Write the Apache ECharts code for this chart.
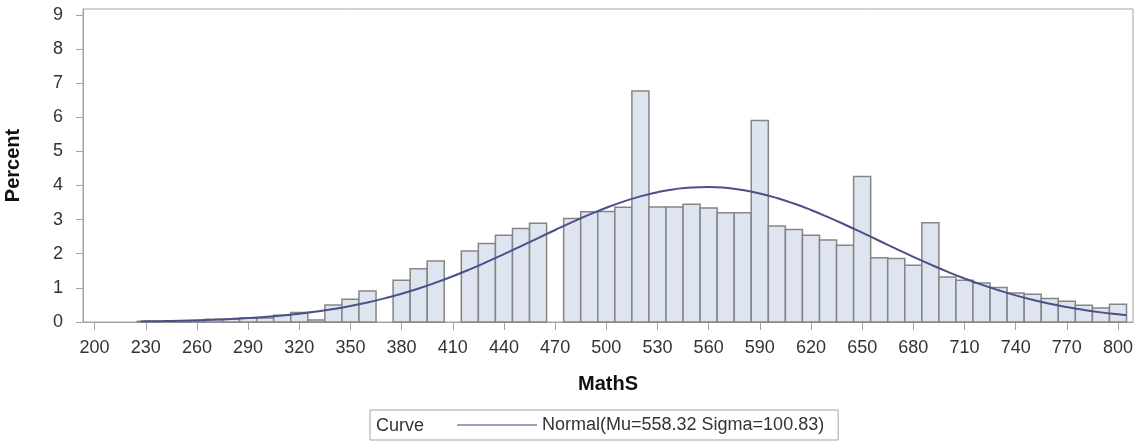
<!DOCTYPE html>
<html>
<head>
<meta charset="utf-8">
<script src="https://cdn.jsdelivr.net/npm/echarts@6/dist/echarts.min.js"></script>
<style>
html,body{margin:0;padding:0;background:#fff;}
#chart{width:1141px;height:443px;}
</style>
</head>
<body>
<div id="chart"></div>
<script>
// Histogram bins (midpoints, width 10) and percents
const binMid = [230,240,250,260,270,280,290,300,310,320,330,340,350,360,370,380,390,400,410,420,430,440,450,460,470,480,490,500,510,520,530,540,550,560,570,580,590,600,610,620,630,640,650,660,670,680,690,700,710,720,730,740,750,760,770,780,790,800];
const binPct = [0.02,0.02,0.02,0.03,0.08,0.08,0.12,0.12,0.2,0.28,0.06,0.5,0.67,0.91,0,1.22,1.56,1.79,0,2.08,2.30,2.54,2.74,2.89,0,3.03,3.23,3.24,3.36,6.77,3.37,3.37,3.45,3.34,3.20,3.20,5.90,2.81,2.71,2.54,2.40,2.25,4.26,1.88,1.86,1.66,2.91,1.32,1.22,1.14,1.01,0.85,0.81,0.69,0.61,0.49,0.41,0.52];
const binWidth = 10;

// Fitted normal curve (percent per bin)
const curveX = [227,230,240,250,260,270,280,290,300,310,320,330,340,350,360,370,380,390,400,410,420,430,440,450,460,470,480,490,500,510,520,530,540,550,560,570,580,590,600,610,620,630,640,650,660,670,680,690,700,710,720,730,740,750,760,770,780,790,800,805];
const curveY = [0.018,0.020,0.027,0.037,0.050,0.066,0.088,0.115,0.149,0.191,0.242,0.305,0.380,0.468,0.572,0.692,0.828,0.982,1.154,1.341,1.544,1.761,1.988,2.222,2.460,2.696,2.927,3.145,3.348,3.528,3.681,3.804,3.892,3.944,3.956,3.930,3.866,3.766,3.633,3.470,3.282,3.073,2.850,2.617,2.380,2.143,1.910,1.687,1.474,1.276,1.094,0.929,0.780,0.650,0.535,0.437,0.353,0.282,0.224,0.199];

const xTicks = [200,230,260,290,320,350,380,410,440,470,500,530,560,590,620,650,680,710,740,770,800];
const yTicks = [0,1,2,3,4,5,6,7,8,9];

const legendName = 'Normal(Mu=558.32 Sigma=100.83)';
const legendTitle = 'Curve';
const xTitle = 'MathS';
const yTitle = 'Percent';

const FONT = '"Liberation Sans", Arial, sans-serif';
const frameColor = '#a3a3a3';
const textColor = '#333333';
const curveColor = '#4a5088';

const chart = echarts.init(document.getElementById('chart'), null, {renderer: 'canvas'});

const option = {
  animation: false,
  backgroundColor: '#ffffff',
  textStyle: {fontFamily: FONT},
  grid: {
    left: 83, right: 8, top: 9, bottom: 121,
    containLabel: false,
    outerBoundsMode: 'none',
    show: true, borderColor: frameColor, borderWidth: 1, backgroundColor: 'transparent'
  },
  xAxis: {
    type: 'value',
    min: 193.2, max: 808.8,
    name: xTitle,
    nameLocation: 'middle',
    nameGap: 52,
    nameTextStyle: {fontFamily: FONT, fontSize: 20, fontWeight: 'bold', color: '#111'},
    axisLine: {show: true, lineStyle: {color: frameColor, width: 1}},
    axisTick: {show: true, length: 8, lineStyle: {color: frameColor}, customValues: xTicks},
    axisLabel: {fontFamily: FONT, fontSize: 18, color: textColor, margin: 17, customValues: xTicks},
    splitLine: {show: false}
  },
  yAxis: {
    type: 'value',
    min: 0, max: 9.17,
    name: yTitle,
    nameLocation: 'middle',
    nameGap: 60,
    nameRotate: 90,
    nameTextStyle: {fontFamily: FONT, fontSize: 20, fontWeight: 'bold', color: '#111'},
    axisLine: {show: true, lineStyle: {color: frameColor, width: 1}},
    axisTick: {show: true, length: 7, lineStyle: {color: frameColor}, customValues: yTicks},
    axisLabel: {fontFamily: FONT, fontSize: 18, color: textColor, margin: 20, customValues: yTicks},
    splitLine: {show: false}
  },
  legend: {
    data: [{name: legendName, icon: 'rect'}],
    left: 370, top: 410,
    padding: [6, 14, 6, 87],
    borderColor: frameColor, borderWidth: 1,
    itemWidth: 80, itemHeight: 1.5,
    itemStyle: {color: '#7d82aa'},
    textStyle: {fontFamily: FONT, fontSize: 18, color: textColor, lineHeight: 18},
    selectedMode: false
  },
  graphic: [{
    type: 'text', left: 376, top: 417,
    style: {text: legendTitle, font: '18px ' + FONT, fill: textColor}
  }],
  series: [
    {
      type: 'custom',
      name: 'bars',
      data: binMid.map((m, i) => [m, binPct[i]]),
      encode: {x: 0, y: 1},
      clip: false,
      renderItem: function (params, api) {
        const x = api.value(0), y = api.value(1);
        if (!y) return null;
        const p0 = api.coord([x - binWidth / 2, y]);
        const p1 = api.coord([x + binWidth / 2, 0]);
        return {
          type: 'rect',
          shape: {x: p0[0], y: p0[1], width: p1[0] - p0[0], height: p1[1] - p0[1]},
          style: {fill: '#dee4f0', stroke: '#858585', lineWidth: 1.5}
        };
      },
      z: 2
    },
    {
      type: 'line',
      name: legendName,
      data: curveX.map((x, i) => [x, curveY[i]]),
      smooth: true,
      symbol: 'none',
      lineStyle: {color: curveColor, width: 2},
      itemStyle: {color: curveColor},
      z: 3
    }
  ]
};
chart.setOption(option);
</script>
</body>
</html>
